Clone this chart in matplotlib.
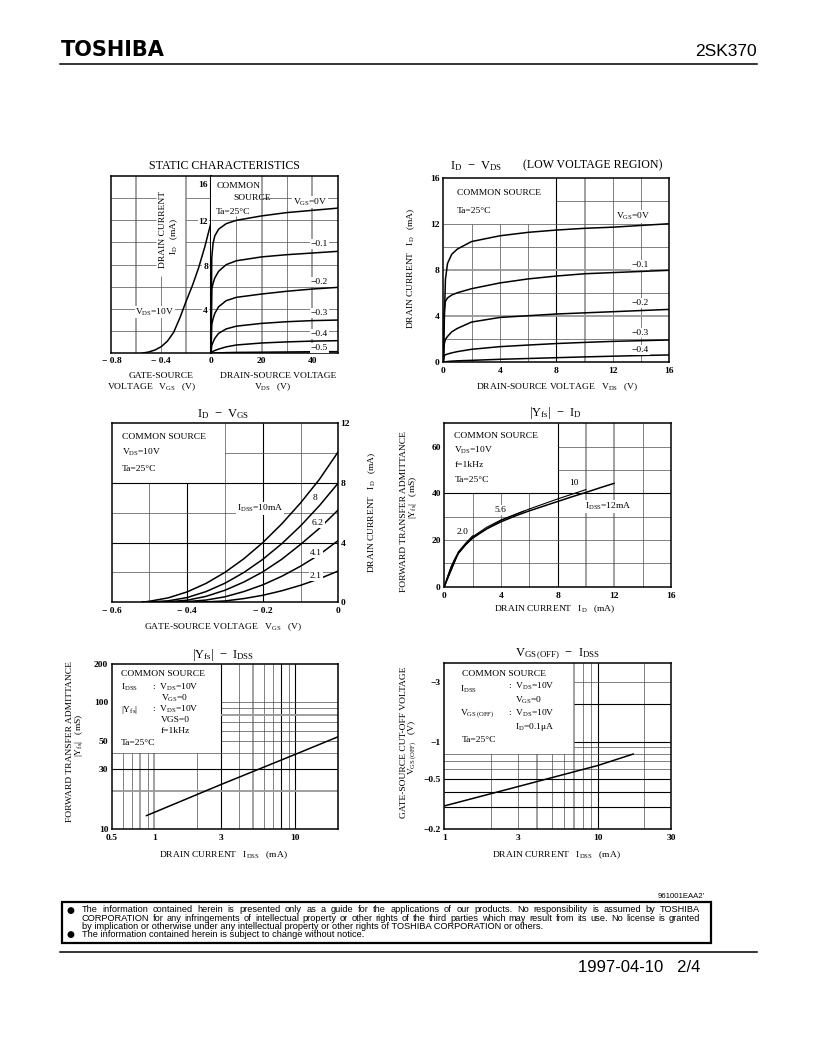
import matplotlib
matplotlib.use("Agg")
import matplotlib.pyplot as plt
from matplotlib.patches import Rectangle
from matplotlib.lines import Line2D
from matplotlib.ticker import NullLocator

plt.rcParams["font.family"] = ["Liberation Serif", "DejaVu Serif"]
plt.rcParams["mathtext.fontset"] = "custom"
plt.rcParams["mathtext.rm"] = "Liberation Serif"
plt.rcParams["mathtext.it"] = "Liberation Serif:italic"

W, H = 819, 1056

# ---------------- data ----------------
# STATIC CHARACTERISTICS, left half: ID vs VGS (VDS = 10 V)
st_vgs = [-0.56, -0.5, -0.45, -0.4, -0.35, -0.3, -0.25, -0.2, -0.15, -0.1, -0.05, 0.0]
st_id_vgs = [0.0, 0.12, 0.3, 0.6, 1.1, 1.9, 3.2, 4.7, 6.1, 7.7, 9.6, 11.8]
# right half: ID vs VDS for VGS = 0 ... -0.5 V
st_vds = [0, 0.3, 0.8, 1.5, 3, 6, 10, 20, 30, 40, 50]
st_id_0 = [0, 8.6, 9.9, 10.6, 11.2, 11.7, 12.0, 12.4, 12.7, 12.9, 13.1]
st_id_m1 = [0, 5.8, 6.3, 6.8, 7.4, 8.0, 8.35, 8.7, 8.9, 9.05, 9.2]
st_id_m2 = [0, 2.6, 3.1, 3.6, 4.2, 4.75, 5.05, 5.35, 5.6, 5.8, 5.95]
st_id_m3 = [0, 0.7, 1.0, 1.35, 1.8, 2.2, 2.45, 2.7, 2.85, 2.95, 3.0]
st_id_m4 = [0, 0.12, 0.18, 0.25, 0.38, 0.58, 0.75, 0.93, 1.03, 1.1, 1.14]
st_id_m5 = [0, 0.01, 0.02, 0.03, 0.04, 0.06, 0.08, 0.1, 0.12, 0.14, 0.15]

# ID - VDS (low voltage region)
lv_vds = [0, 0.07, 0.15, 0.3, 0.6, 1, 2, 4, 6, 8, 10, 12, 14, 16]
lv_id_0 = [0, 3.5, 7.2, 8.6, 9.4, 9.85, 10.5, 11.0, 11.3, 11.5, 11.65, 11.75, 11.9, 12.05]
lv_id_m1 = [0, 4.5, 5.3, 5.6, 5.85, 6.05, 6.4, 6.9, 7.25, 7.5, 7.7, 7.8, 7.9, 8.0]
lv_id_m2 = [0, 1.6, 2.0, 2.25, 2.65, 2.95, 3.5, 3.9, 4.05, 4.2, 4.3, 4.4, 4.5, 4.6]
lv_id_m3 = [0, 0.6, 0.65, 0.72, 0.82, 0.93, 1.13, 1.36, 1.5, 1.63, 1.73, 1.82, 1.88, 1.94]
lv_id_m4 = [0, 0.02, 0.04, 0.07, 0.1, 0.13, 0.17, 0.26, 0.33, 0.4, 0.47, 0.53, 0.59, 0.64]

# ID - VGS for several IDSS
tr_vgs = [-0.52, -0.5, -0.45, -0.4, -0.35, -0.3, -0.25, -0.2, -0.15, -0.1, -0.05, 0.0]
tr_id_10 = [0, 0.07, 0.3, 0.7, 1.27, 2.01, 2.92, 4.0, 5.25, 6.66, 8.24, 10.1]
tr_id_8 = [0, 0.02, 0.1, 0.32, 0.72, 1.28, 2.0, 2.88, 3.92, 5.12, 6.48, 8.0]
tr_id_62 = [0, 0.01, 0.04, 0.14, 0.4, 0.81, 1.36, 2.04, 2.88, 3.88, 4.96, 6.2]
tr_id_41 = [0, 0, 0.01, 0.05, 0.15, 0.37, 0.72, 1.17, 1.74, 2.42, 3.2, 4.15]
tr_id_21 = [0, 0, 0, 0.01, 0.03, 0.09, 0.25, 0.47, 0.77, 1.14, 1.58, 2.1]

# |Yfs| - ID
yf_id = [0, 0.25, 0.5, 0.75, 1, 1.5, 2, 3, 4, 5, 6, 7, 8, 9, 10, 11, 12]
yf_12 = [0, 4.5, 8.5, 11.8, 14.3, 18.0, 20.8, 24.8, 27.8, 30.3, 32.5, 34.5, 36.5, 38.5, 40.4, 42.4, 44.3]
yf_id_10 = [0, 1, 2, 4, 6, 8, 10]
yf_10 = [0, 14.5, 21.2, 28.4, 33.3, 37.6, 41.6]
yf_id_56 = [0, 1, 2, 3, 4, 5.6]
yf_56 = [0, 14.7, 21.4, 25.5, 28.6, 32.4]
yf_id_20 = [0, 0.5, 1, 1.5, 2]
yf_20 = [0, 8.8, 15.0, 18.6, 21.8]

# |Yfs| - IDSS
yi_idss = [0.88, 3, 10, 20]
yi_yfs = [12.8, 22.6, 38.9, 53.4]

# VGS(OFF) - IDSS  (magnitude, V)
vo_idss = [1, 3, 10, 17]
vo_vgs = [0.307, 0.437, 0.645, 0.796]

# ---------------- helpers ----------------
fig = plt.figure(figsize=(W / 100, H / 100), dpi=100)

GRAY = dict(colors="0.6", linewidths=1.3)
DARK = dict(colors="k", linewidths=0.8)
THIN = dict(colors="0.3", linewidths=0.5)
CURVE = dict(color="k", lw=1.1, zorder=3, solid_capstyle="round")
FS = 6.8
TITLE = 8.6
MTITLE = 9.0


def px_axes(l, t, r, b):
    return fig.add_axes([l / W, 1 - b / H, (r - l) / W, (b - t) / H])


def ptext(x, y, s, size=FS, ha="left", va="center", rot=0, box=False, **kw):
    t = fig.text(x / W, 1 - y / H, s, fontsize=size, ha=ha, va=va, rotation=rot, **kw)
    if box:
        t.set_bbox(dict(facecolor="white", edgecolor="none", pad=0.6))
    return t


def frame(ax):
    for sp in ax.spines.values():
        sp.set_linewidth(1.1)
    ax.tick_params(length=0, labelsize=FS, pad=2.5)
    ax.xaxis.set_minor_locator(NullLocator())
    ax.yaxis.set_minor_locator(NullLocator())


def vgrid(ax, xs, lo, hi, st):
    ax.vlines(xs, lo, hi, zorder=1, **st)


def hgrid(ax, ys, lo, hi, st):
    ax.hlines(ys, lo, hi, zorder=1, **st)


# ---------------- header ----------------
ptext(61, 50, "TOSHIBA", size=15, family="DejaVu Sans", weight="bold")
ptext(757, 51, "2SK370", size=12.5, ha="right", family="Liberation Sans")
fig.add_artist(Line2D([60 / W, 757 / W], [1 - 64 / H] * 2, color="k", lw=1.1))

# ---------------- STATIC CHARACTERISTICS ----------------
a1l = px_axes(111.5, 176, 211, 353.3)
a1r = px_axes(211, 176, 337.7, 353.3)
for ax in (a1l, a1r):
    frame(ax)
    ax.set_ylim(0, 16)
    ax.set_yticks([])
a1l.set_xlim(-0.8, 0)
a1r.set_xlim(0, 50)
a1l.spines["right"].set_linewidth(1.5)
a1r.spines["left"].set_visible(False)
a1l.set_xticks([-0.8, -0.4, 0], ["\u2212 0.8", "\u2212 0.4", "0"], fontweight="bold")
a1r.set_xticks([20, 40], ["20", "40"], fontweight="bold")
a1l.tick_params(axis="x", pad=3)
a1r.tick_params(axis="x", pad=3)

vgrid(a1l, [-0.6, -0.2], 0, 16, GRAY)
vgrid(a1l, [-0.4], 0, 7, THIN)
hgrid(a1l, [2, 4, 6], -0.8, 0, THIN)
hgrid(a1l, [8, 10, 12, 14], -0.8, -0.44, THIN)
hgrid(a1l, [8, 10, 12, 14], -0.2, 0, THIN)
a1l.plot(st_vgs, st_id_vgs, **CURVE)

vgrid(a1r, [10], 0, 12.4, THIN)
vgrid(a1r, [30], 0, 16, THIN)
vgrid(a1r, [20, 40], 0, 16, GRAY)
hgrid(a1r, [2, 4, 6, 8, 10, 12], 0, 50, THIN)
hgrid(a1r, [14], 20, 50, THIN)
for ids in (st_id_0, st_id_m1, st_id_m2, st_id_m3, st_id_m4, st_id_m5):
    a1r.plot(st_vds, ids, **CURVE)

for yy, s in [(185, "16"), (221.7, "12"), (266.7, "8"), (310.7, "4")]:
    ptext(208, yy, s, ha="right", box=True, weight="bold")
ptext(163, 230, "DRAIN CURRENT", rot=90, ha="center")
ptext(174, 236, "I$_{\\rm D}$   (mA)", rot=90, ha="center")
ptext(155, 312, "V$_{\\rm DS}$=10V", ha="center", box=True)
ptext(216.5, 186, "COMMON")
ptext(233, 198.5, "SOURCE")
ptext(216, 211.5, "Ta=25\u00b0C")
ptext(293, 202, "V$_{\\rm GS}$=0V", box=True)
for yy, s in [(244, "\u22120.1"), (281.7, "\u22120.2"), (313.3, "\u22120.3"),
              (334.3, "\u22120.4"), (347.7, "\u22120.5")]:
    ptext(311, yy, s, box=True)
ptext(224, 166, "STATIC CHARACTERISTICS", size=TITLE, ha="center")
ptext(161, 376, "GATE-SOURCE", ha="center")
ptext(152, 387, "VOLTAGE   V$_{\\rm GS}$   (V)", ha="center")
ptext(278, 376, "DRAIN-SOURCE VOLTAGE", ha="center")
ptext(273, 387, "V$_{\\rm DS}$   (V)", ha="center")

# ---------------- ID - VDS (low voltage region) ----------------
a2 = px_axes(443.3, 178.3, 669.3, 362.3)
frame(a2)
a2.set_xlim(0, 16)
a2.set_ylim(0, 16)
a2.set_xticks([0, 4, 8, 12, 16], ["0", "4", "8", "12", "16"], fontweight="bold")
a2.set_yticks([0, 4, 8, 12, 16], ["0", "4", "8", "12", "16"], fontweight="bold")
a2.tick_params(axis="x", pad=3.5)
vgrid(a2, [2, 4, 6], 0, 12, THIN)
vgrid(a2, [8], 0, 16, DARK)
vgrid(a2, [10], 0, 16, GRAY)
vgrid(a2, [12, 14], 0, 16, THIN)
hgrid(a2, [2, 6, 10, 12], 0, 16, THIN)
hgrid(a2, [4, 8], 0, 16, GRAY)
hgrid(a2, [14], 8, 16, THIN)
for ids in (lv_id_0, lv_id_m1, lv_id_m2, lv_id_m3, lv_id_m4):
    a2.plot(lv_vds, ids, **CURVE)
ptext(456.7, 192.7, "COMMON SOURCE")
ptext(456.7, 211, "Ta=25\u00b0C")
ptext(616, 216.7, "V$_{\\rm GS}$=0V", box=True)
for yy, s in [(265, "\u22120.1"), (303.3, "\u22120.2"), (333.3, "\u22120.3"), (350, "\u22120.4")]:
    ptext(631.7, yy, s, box=True)
ptext(476, 166, "I$_{\\rm D}$  \u2212  V$_{\\rm DS}$", size=MTITLE, ha="center")
ptext(593, 165, "(LOW VOLTAGE REGION)", size=TITLE, ha="center")
ptext(557, 387, "DRAIN-SOURCE VOLTAGE   V$_{\\rm DS}$   (V)", ha="center")
ptext(411, 268, "DRAIN CURRENT   I$_{\\rm D}$   (mA)", rot=90, ha="center")

# ---------------- ID - VGS ----------------
a3 = px_axes(111.7, 423.3, 338.3, 602.3)
frame(a3)
a3.set_xlim(-0.6, 0)
a3.set_ylim(0, 12)
a3.yaxis.tick_right()
a3.set_xticks([-0.6, -0.4, -0.2, 0], ["\u2212 0.6", "\u2212 0.4", "\u2212 0.2", "0"], fontweight="bold")
a3.set_yticks([0, 4, 8, 12], ["0", "4", "8", "12"], fontweight="bold")
a3.tick_params(axis="x", pad=3.5)
a3.tick_params(axis="y", pad=1.5)
vgrid(a3, [-0.5], 0, 8, THIN)
vgrid(a3, [-0.4], 0, 8, DARK)
vgrid(a3, [-0.3, -0.1], 0, 12, THIN)
vgrid(a3, [-0.2], 0, 12, DARK)
hgrid(a3, [2, 6], -0.6, 0, THIN)
hgrid(a3, [4, 8], -0.6, 0, DARK)
hgrid(a3, [10], -0.3, 0, THIN)
for ids in (tr_id_10, tr_id_8, tr_id_62, tr_id_41, tr_id_21):
    a3.plot(tr_vgs, ids, **CURVE)
ptext(121.7, 436.7, "COMMON SOURCE")
ptext(121.7, 452.7, "V$_{\\rm DS}$=10V")
ptext(121.7, 469.3, "Ta=25\u00b0C")
ptext(236.7, 508.3, "I$_{\\rm DSS}$=10mA", box=True)
ptext(313, 498, "8", box=True)
ptext(312, 523, "6.2", box=True)
ptext(310, 552.7, "4.1", box=True)
ptext(310, 575.7, "2.1", box=True)
ptext(223.3, 414, "I$_{\\rm D}$  \u2212  V$_{\\rm GS}$", size=MTITLE, ha="center")
ptext(223.3, 626.7, "GATE-SOURCE VOLTAGE   V$_{\\rm GS}$   (V)", ha="center")
ptext(372, 512, "DRAIN CURRENT   I$_{\\rm D}$   (mA)", rot=90, ha="center")

# ---------------- |Yfs| - ID ----------------
a4 = px_axes(444.3, 423.3, 671, 586.7)
frame(a4)
a4.set_xlim(0, 16)
a4.set_ylim(0, 70)
a4.set_xticks([0, 4, 8, 12, 16], ["0", "4", "8", "12", "16"], fontweight="bold")
a4.set_yticks([0, 20, 40, 60], ["0", "20", "40", "60"], fontweight="bold")
a4.tick_params(axis="x", pad=3.5)
vgrid(a4, [2, 4, 6], 0, 40, THIN)
vgrid(a4, [8], 0, 70, DARK)
vgrid(a4, [10, 12], 0, 70, GRAY)
vgrid(a4, [14], 0, 70, THIN)
hgrid(a4, [10, 20, 30], 0, 16, THIN)
hgrid(a4, [40], 0, 16, DARK)
hgrid(a4, [50, 60], 8, 16, THIN)
a4.plot(yf_id, yf_12, **CURVE)
a4.plot(yf_id_10, yf_10, color="k", lw=0.8, zorder=3)
a4.plot(yf_id_56, yf_56, color="k", lw=0.8, zorder=3)
a4.plot(yf_id_20, yf_20, color="k", lw=0.8, zorder=3)
ptext(454.3, 436, "COMMON SOURCE")
ptext(454.3, 450.7, "V$_{\\rm DS}$=10V")
ptext(454.3, 465.3, "f=1kHz")
ptext(454.3, 480, "Ta=25\u00b0C")
ptext(456.7, 531.7, "2.0", box=True)
ptext(494, 510, "5.6", box=True)
ptext(569, 483.3, "10", box=True)
ptext(585, 506.7, "I$_{\\rm DSS}$=12mA", box=True)
ptext(555, 413.3, "|Y$_{\\rm fs}$|  \u2212  I$_{\\rm D}$", size=MTITLE, ha="center")
ptext(555, 609.3, "DRAIN CURRENT   I$_{\\rm D}$   (mA)", ha="center")
ptext(404, 512, "FORWARD TRANSFER ADMITTANCE", rot=90, ha="center")
ptext(413, 497, "|Y$_{\\rm fs}$|   (mS)", rot=90, ha="center")

# ---------------- |Yfs| - IDSS ----------------
a5 = px_axes(111.7, 664.3, 338.3, 829.3)
a5.set_xscale("log")
a5.set_yscale("log")
frame(a5)
a5.set_xlim(0.5, 20.3)
a5.set_ylim(10, 200)
a5.set_xticks([0.5, 1, 3, 10], ["0.5", "1", "3", "10"], fontweight="bold")
a5.set_yticks([10, 30, 50, 100, 200], ["10", "30", "50", "100", "200"], fontweight="bold")
a5.xaxis.set_minor_locator(NullLocator())
a5.yaxis.set_minor_locator(NullLocator())
a5.tick_params(axis="x", pad=3.5)
vgrid(a5, [0.6, 0.7, 0.9, 2], 10, 40, THIN)
vgrid(a5, [0.8, 1], 10, 40, GRAY)
vgrid(a5, [3, 8, 10], 10, 200, DARK)
vgrid(a5, [4, 6, 7, 9], 10, 200, THIN)
vgrid(a5, [5], 10, 200, GRAY)
hgrid(a5, [20], 0.5, 20.3, GRAY)
hgrid(a5, [30], 0.5, 20.3, DARK)
hgrid(a5, [40], 0.5, 20.3, THIN)
hgrid(a5, [50, 60, 70, 90, 100], 3, 20.3, THIN)
hgrid(a5, [80], 3, 20.3, GRAY)
a5.plot(yi_idss, yi_yfs, **CURVE)
ptext(120.7, 674.3, "COMMON SOURCE")
ptext(120.7, 687.7, "I$_{\\rm DSS}$")
ptext(151.7, 687, ":  V$_{\\rm DS}$=10V")
ptext(161, 698.3, "V$_{\\rm GS}$=0")
ptext(120.7, 710, "|Y$_{\\rm fs}$|")
ptext(151.7, 709, ":  V$_{\\rm DS}$=10V")
ptext(161, 720, "VGS=0")
ptext(161, 731, "f=1kHz")
ptext(120.7, 742.7, "Ta=25\u00b0C")
ptext(223.3, 655, "|Y$_{\\rm fs}$|  \u2212  I$_{\\rm DSS}$", size=MTITLE, ha="center")
ptext(223.3, 855, "DRAIN CURRENT   I$_{\\rm DSS}$   (mA)", ha="center")
ptext(70, 742, "FORWARD TRANSFER ADMITTANCE", rot=90, ha="center")
ptext(79, 735, "|Y$_{\\rm fs}$|   (mS)", rot=90, ha="center")

# ---------------- VGS(OFF) - IDSS ----------------
a6 = px_axes(444.3, 663.3, 671.3, 829.3)
a6.set_xscale("log")
a6.set_yscale("log")
frame(a6)
a6.set_xlim(1, 30)
a6.set_ylim(0.2, 4.2)
a6.set_xticks([1, 3, 10, 30], ["1", "3", "10", "30"], fontweight="bold")
a6.set_yticks([0.2, 0.5, 1, 3], ["\u22120.2", "\u22120.5", "\u22121", "\u22123"], fontweight="bold")
a6.xaxis.set_minor_locator(NullLocator())
a6.yaxis.set_minor_locator(NullLocator())
a6.tick_params(axis="x", pad=3.5)
vgrid(a6, [2, 3, 5, 6], 0.2, 0.8, THIN)
vgrid(a6, [4], 0.2, 0.8, GRAY)
vgrid(a6, [7], 0.2, 4.2, GRAY)
vgrid(a6, [8, 9, 20], 0.2, 4.2, THIN)
vgrid(a6, [10], 0.2, 4.2, DARK)
hgrid(a6, [0.3, 0.4, 0.5], 1, 30, DARK)
hgrid(a6, [0.6, 0.7, 0.8], 1, 30, THIN)
hgrid(a6, [0.9, 3], 7, 30, THIN)
hgrid(a6, [1, 2], 7, 30, DARK)
a6.plot(vo_idss, vo_vgs, **CURVE)
ptext(461.7, 674.3, "COMMON SOURCE")
ptext(460, 689.3, "I$_{\\rm DSS}$")
ptext(508.3, 686.7, ":  V$_{\\rm DS}$=10V")
ptext(515, 700, "V$_{\\rm GS}$=0")
ptext(460, 714, "V$_{\\rm GS\\,(OFF)}$")
ptext(508.3, 713.3, ":  V$_{\\rm DS}$=10V")
ptext(515, 727.3, "I$_{\\rm D}$=0.1\u03bcA")
ptext(461.7, 740, "Ta=25\u00b0C")
ptext(557.5, 654, "V$_{\\rm GS\\,(OFF)}$  \u2212  I$_{\\rm DSS}$", size=MTITLE, ha="center")
ptext(556.7, 855, "DRAIN CURRENT   I$_{\\rm DSS}$   (mA)", ha="center")
ptext(404, 742, "GATE-SOURCE CUT-OFF VOLTAGE", rot=90, ha="center")
ptext(413, 748, "V$_{\\rm GS\\,(OFF)}$   (V)", rot=90, ha="center")

# ---------------- footer ----------------
notice = [
    "The information contained herein is presented only as a guide for the applications of our products. No responsibility is assumed by TOSHIBA",
    "CORPORATION for any infringements of intellectual property or other rights of the third parties which may result from its use. No license is granted",
    "by implication or otherwise under any intellectual property or other rights of TOSHIBA CORPORATION or others.",
    "The information contained herein is subject to change without notice.",
]
line_y = [910, 918.3, 926.7, 934.3]
SANS = "Liberation Sans"
renderer = fig.canvas.get_renderer()

probe = ptext(0, 0, notice[2], size=6, family=SANS)
w3 = probe.get_window_extent(renderer).width
probe.remove()
fsize = 6 * 471 / w3

for i, (s, yy) in enumerate(zip(notice, line_y)):
    if i < 2:
        words = s.split(" ")
        objs = [ptext(0, yy, w, size=fsize, family=SANS) for w in words]
        widths = [o.get_window_extent(renderer).width for o in objs]
        gap = (700 - 81.7 - sum(widths)) / (len(words) - 1)
        x = 81.7
        for o, w in zip(objs, widths):
            o.set_x(x / W)
            x += w + gap
    else:
        ptext(81.7, yy, s, size=fsize, family=SANS)
for yy in (line_y[0], line_y[3]):
    ptext(70, yy, "\u25cf", size=6.5, ha="center", family="DejaVu Sans")

fig.add_artist(Rectangle((62 / W, 1 - 943 / H), (711 - 62) / W, (943 - 902) / H,
                         transform=fig.transFigure, fill=False, lw=1.6, color="k"))
ptext(705, 896, "961001EAA2'", size=5.6, ha="right", family=SANS)
fig.add_artist(Line2D([60 / W, 757 / W], [1 - 952 / H] * 2, color="k", lw=1.1))
ptext(700, 968, "1997-04-10   2/4", size=12, ha="right", family=SANS)

fig.savefig("out.png", dpi=100)
